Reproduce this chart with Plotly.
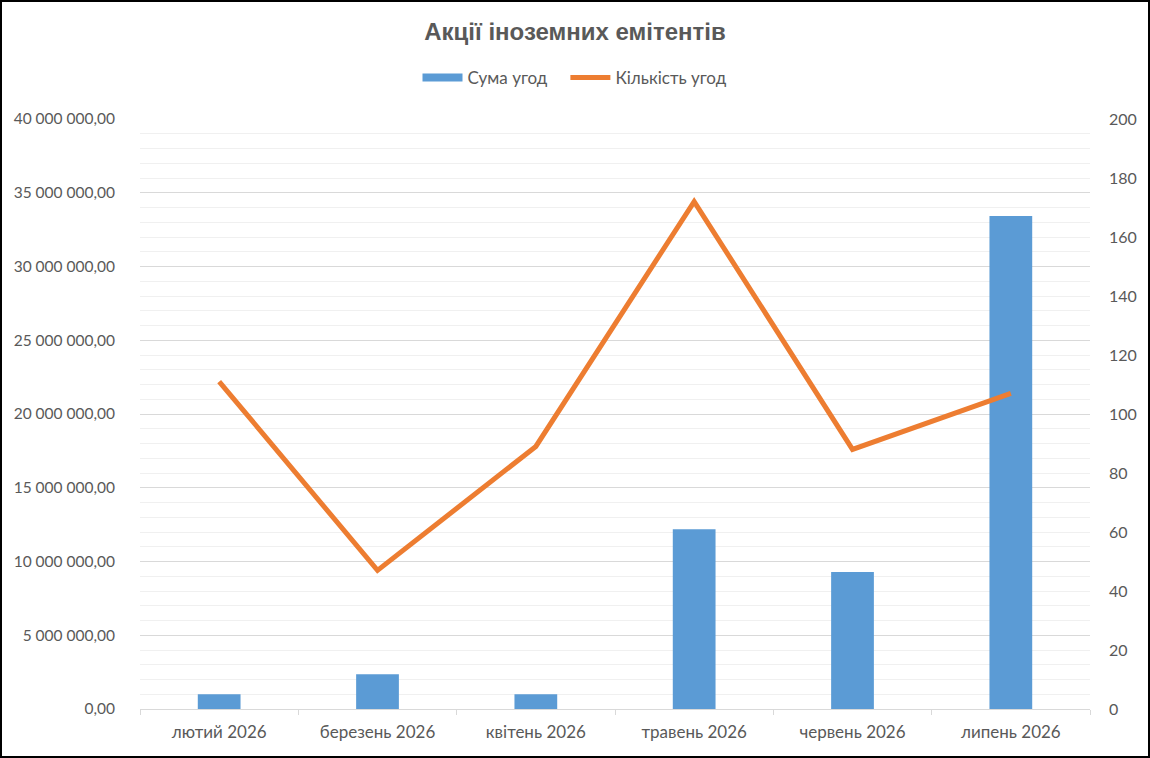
import plotly.graph_objects as go

# data
months = ["лютий 2026", "березень 2026", "квітень 2026",
          "травень 2026", "червень 2026", "липень 2026"]
deal_sum = [1000000, 2350000, 1000000, 12190000, 9290000, 33420000]
deal_count = [111, 47, 89, 172, 88, 107]

W, H = 1150, 758
ML, MR, MT, MB = 140, 60, 119, 49
plot_w = W - ML - MR
plot_h = H - MT - MB

grey = "#595959"
blue = "#5B9BD5"
orange = "#ED7D31"
font = "Lato, 'Open Sans', sans-serif"

fig = go.Figure()
fig.add_trace(go.Bar(x=months, y=deal_sum, name="Сума угод",
                     marker=dict(color=blue, line=dict(width=0)),
                     yaxis="y", showlegend=False))
# legend proxy so the bar key is a wide flat block as in Excel
# (trailing no-break spaces widen the gap before the next key)
fig.add_trace(go.Scatter(x=[None], y=[None],
                         name="Сума угод\u00a0\u00a0\u00a0",
                         mode="lines", line=dict(color=blue, width=8),
                         yaxis="y"))
fig.add_trace(go.Scatter(x=months, y=deal_count, name="Кількість угод",
                         mode="lines",
                         line=dict(color=orange, width=5),
                         yaxis="y2"))

fig.update_layout(
    width=W, height=H,
    margin=dict(l=ML, r=MR, t=MT, b=MB, pad=0),
    paper_bgcolor="white", plot_bgcolor="white",
    separators=", ",
    font=dict(family=font, size=15, color=grey),
    title=dict(text="<b>Акції іноземних емітентів</b>",
               x=0.5, xref="container", xanchor="center",
               y=1 - 32 / H, yref="container", yanchor="middle",
               font=dict(family="'Liberation Sans', Arial, sans-serif",
                         size=24, color=grey)),
    legend=dict(orientation="h", x=0.5, xref="container", xanchor="center",
                y=1 - 78 / H, yref="container", yanchor="middle",
                font=dict(family=font, size=17, color=grey),
                itemwidth=40, tracegroupgap=0),
    bargap=0.73,
    showlegend=True,
    xaxis=dict(type="category", showgrid=False, showline=True,
               linecolor="#d9d9d9", linewidth=1,
               ticks="outside", tickson="boundaries", ticklen=5,
               tickcolor="#d9d9d9", tickfont=dict(size=17, color=grey),
               ticklabelstandoff=8, zeroline=False),
    yaxis=dict(range=[0, 40000000], dtick=5000000, tickformat=",.2f",
               showgrid=True, gridcolor="#d9d9d9", gridwidth=1,
               minor=dict(dtick=1000000, showgrid=True,
                          gridcolor="#f0f0f0", gridwidth=1),
               zeroline=False, showline=False, ticks="",
               ticklabelstandoff=24,
               tickfont=dict(size=15.5, color=grey)),
    yaxis2=dict(range=[0, 200], dtick=20, overlaying="y", side="right",
                showgrid=False, zeroline=False, showline=False, ticks="",
                ticklabelstandoff=18,
                tickfont=dict(size=16, color=grey)),
)

# black frame round the whole chart
fig.add_shape(type="rect", xref="paper", yref="paper",
              x0=-(ML - 1) / plot_w, x1=1 + (MR - 1) / plot_w,
              y0=-(MB - 1) / plot_h, y1=1 + (MT - 1) / plot_h,
              line=dict(color="black", width=2), layer="above")

# page body has a default margin; drop it so the chart fills the window
fig.write_html("out.html",
               config={"displayModeBar": False},
               post_script="document.body.style.margin='0';"
                           "document.body.style.overflow='hidden';")
